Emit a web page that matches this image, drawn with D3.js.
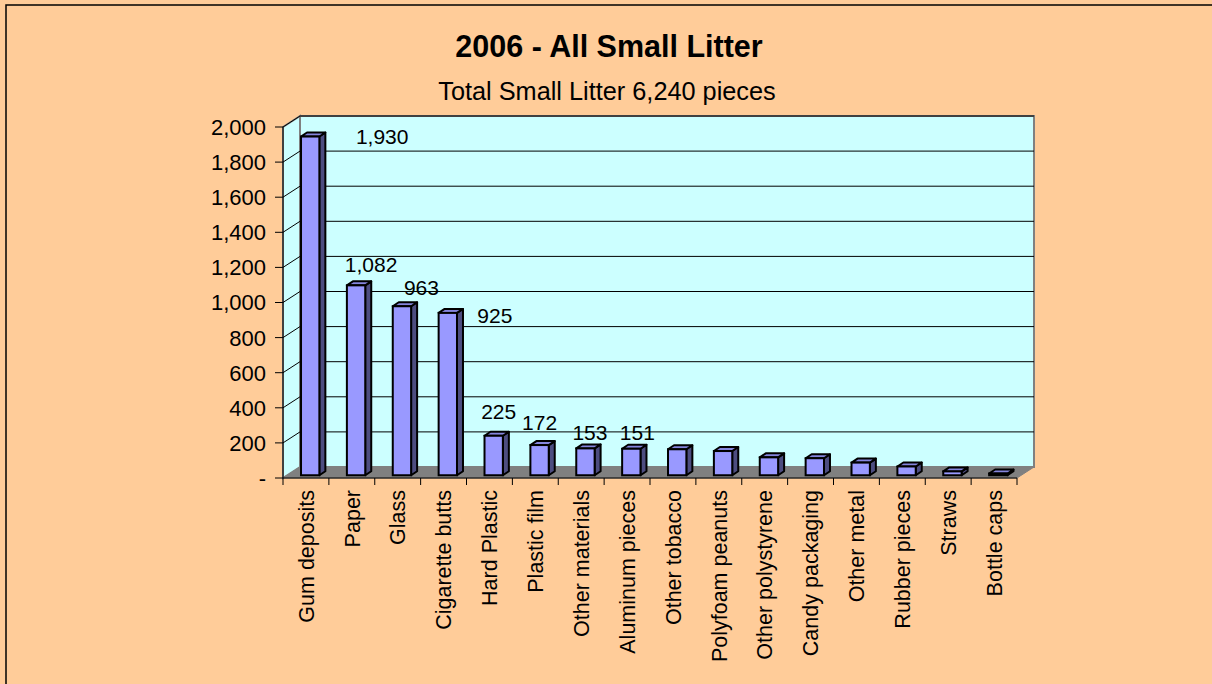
<!DOCTYPE html>
<html>
<head>
<meta charset="utf-8">
<script src="https://cdn.jsdelivr.net/npm/d3@7"></script>
<style>
  body { margin: 0; background: #ffcc99; }
  svg { display: block; font-family: Arial, 'Liberation Sans', sans-serif; }
</style>
</head>
<body>
<svg id="chart" width="1212" height="684"></svg>
<script>
// chart values
var categories = ['Gum deposits', 'Paper', 'Glass', 'Cigarette butts', 'Hard Plastic',
  'Plastic film', 'Other materials', 'Aluminum pieces', 'Other tobacco', 'Polyfoam peanuts',
  'Other polystyrene', 'Candy packaging', 'Other metal', 'Rubber pieces', 'Straws', 'Bottle caps'];
var pieces = [1930, 1082, 963, 925, 225, 172, 153, 151, 148, 138, 102, 97, 72, 50, 22, 10];
var labelled = [true, true, true, true, true, true, true, true,
  false, false, false, false, false, false, false, false];
var yTicks = [0, 200, 400, 600, 800, 1000, 1200, 1400, 1600, 1800, 2000];
var title = '2006 - All Small Litter';
var subtitle = 'Total Small Litter 6,240 pieces';

var svg = d3.select('#chart');
var width = +svg.attr('width');

// 3d box of the plot: front plane plus a depth offset
var plotLeft = 283, plotRight = 1017, plotBottom = 478, plotTop = 127;
var depth = [17, -11];

var x = d3.scaleBand().domain(categories).range([plotLeft, plotRight]).padding(0);
var xBar = d3.scaleBand().domain(categories).range([plotLeft, plotRight])
  .paddingInner(0.6).paddingOuter(0.3);
var y = d3.scaleLinear().domain([0, 2000]).range([plotBottom, plotTop]);

function shift(p, f) { return [p[0] + depth[0] * f, p[1] + depth[1] * f]; }
function poly(pts) { return pts.map(function(p) { return p.join(','); }).join(' '); }

// chart border (only top and left show in the window)
svg.append('rect')
  .attr('x', 6).attr('y', 5)
  .attr('width', width + 20).attr('height', 800)
  .attr('fill', '#ffcc99')
  .attr('stroke', '#000').attr('stroke-width', 1.5);

// titles
svg.append('text')
  .attr('x', 609).attr('y', 57)
  .attr('text-anchor', 'middle')
  .attr('font-size', 30.5).attr('font-weight', 'bold')
  .text(title);
svg.append('text')
  .attr('x', 607).attr('y', 100)
  .attr('text-anchor', 'middle')
  .attr('font-size', 25.3)
  .text(subtitle);

var walls = svg.append('g');

// back wall
var b0 = shift([plotLeft, y(2000)], 1), b1 = shift([plotRight, y(0)], 1);
walls.append('rect')
  .attr('x', b0[0]).attr('y', b0[1])
  .attr('width', b1[0] - b0[0]).attr('height', b1[1] - b0[1])
  .attr('fill', '#ccffff')
  .attr('stroke', '#808080').attr('stroke-width', 2);

// side wall
walls.append('polygon')
  .attr('points', poly([[plotLeft, y(2000)], shift([plotLeft, y(2000)], 1), shift([plotLeft, y(0)], 1), [plotLeft, y(0)]]))
  .attr('fill', '#ccffff')
  .attr('stroke', '#808080').attr('stroke-width', 2);

// gridlines on the back wall and across the side wall
yTicks.forEach(function(t) {
  if (t === 0) return;
  var a = shift([plotLeft, y(t)], 1), c = shift([plotRight, y(t)], 1);
  walls.append('line')
    .attr('x1', a[0]).attr('y1', a[1]).attr('x2', c[0]).attr('y2', c[1])
    .attr('stroke', '#000').attr('stroke-width', 1);
  walls.append('line')
    .attr('x1', plotLeft).attr('y1', y(t)).attr('x2', a[0]).attr('y2', a[1])
    .attr('stroke', '#000').attr('stroke-width', 1);
});

// floor
walls.append('polygon')
  .attr('points', poly([[plotLeft, y(0)], [plotRight, y(0)], shift([plotRight, y(0)], 1), shift([plotLeft, y(0)], 1)]))
  .attr('fill', '#808080')
  .attr('stroke', '#808080').attr('stroke-width', 1);

// value axis
var yAxis = svg.append('g');
yAxis.append('line')
  .attr('x1', plotLeft).attr('y1', y(0)).attr('x2', plotLeft).attr('y2', y(2000))
  .attr('stroke', '#000').attr('stroke-width', 1);
yAxis.selectAll('.ytick')
  .data(yTicks)
  .enter()
  .append('line')
  .attr('x1', plotLeft - 8).attr('x2', plotLeft)
  .attr('y1', function(d) { return y(d); })
  .attr('y2', function(d) { return y(d); })
  .attr('stroke', '#000');
var fmt = d3.format(',');
yAxis.selectAll('.ylabel')
  .data(yTicks)
  .enter()
  .append('text')
  .attr('x', plotLeft - 17)
  .attr('y', function(d) { return y(d); })
  .attr('dy', '0.36em')
  .attr('text-anchor', 'end')
  .attr('font-size', 22)
  .text(function(d) { return d === 0 ? '-' : fmt(d); });

// category axis
var xAxis = svg.append('g');
xAxis.append('line')
  .attr('x1', plotLeft).attr('y1', y(0)).attr('x2', plotRight).attr('y2', y(0))
  .attr('stroke', '#000');
xAxis.selectAll('.xtick')
  .data(categories.concat(['end']))
  .enter()
  .append('line')
  .attr('x1', function(d, i) { return plotLeft + x.step() * i; })
  .attr('x2', function(d, i) { return plotLeft + x.step() * i; })
  .attr('y1', y(0)).attr('y2', y(0) + 7)
  .attr('stroke', '#000');
xAxis.selectAll('.xlabel')
  .data(categories)
  .enter()
  .append('text')
  .attr('transform', function(d) {
    return 'translate(' + (x(d) + x.bandwidth() / 2) + ',' + (y(0) + 12) + ') rotate(-90)';
  })
  .attr('dy', '0.36em')
  .attr('text-anchor', 'end')
  .attr('font-size', 21.5)
  .text(function(d) { return d; });

// 3d bars, sitting a quarter of the way into the box
var barFront = 0.25, barDepth = [6, -4];
var bars = svg.append('g').selectAll('.bar')
  .data(categories.map(function(c, i) { return { name: c, value: pieces[i] }; }))
  .enter()
  .append('g')
  .attr('class', 'bar');

bars.each(function(d) {
  var g = d3.select(this);
  var p0 = shift([xBar(d.name), y(0)], barFront);
  var p1 = shift([xBar(d.name) + xBar.bandwidth(), y(d.value)], barFront);
  var x0 = p0[0], x1 = p1[0], yb = p0[1], yt = p1[1];
  var dx = barDepth[0], dy = barDepth[1];
  g.append('polygon')
    .attr('points', poly([[x1, yb], [x1 + dx, yb + dy], [x1 + dx, yt + dy], [x1, yt]]))
    .attr('fill', '#4d4d80').attr('stroke', '#000').attr('stroke-width', 2)
    .attr('stroke-linejoin', 'round');
  g.append('polygon')
    .attr('points', poly([[x0, yt], [x1, yt], [x1 + dx, yt + dy], [x0 + dx, yt + dy]]))
    .attr('fill', '#8585dd').attr('stroke', '#000').attr('stroke-width', 2)
    .attr('stroke-linejoin', 'round');
  g.append('rect')
    .attr('x', x0).attr('y', yt)
    .attr('width', x1 - x0).attr('height', yb - yt)
    .attr('fill', '#9999ff').attr('stroke', '#000').attr('stroke-width', 2);
});

// data labels, nudged where the original placed them
var labelNudge = [[72, 7.5], [15, -13.4], [19.5, -11.3], [47, 10], [5, -16.8], [0, -15], [4.5, -8.4], [6, -8.8]];
svg.append('g').selectAll('.vlabel')
  .data(pieces.map(function(v, i) { return { name: categories[i], value: v, i: i }; })
    .filter(function(d) { return labelled[d.i]; }))
  .enter()
  .append('text')
  .attr('x', function(d) {
    return shift([xBar(d.name) + xBar.bandwidth() / 2, 0], barFront)[0] + labelNudge[d.i][0];
  })
  .attr('y', function(d) {
    return shift([0, y(d.value)], barFront)[1] + labelNudge[d.i][1];
  })
  .attr('text-anchor', 'middle')
  .attr('font-size', 21)
  .text(function(d) { return fmt(d.value); });
</script>
</body>
</html>
